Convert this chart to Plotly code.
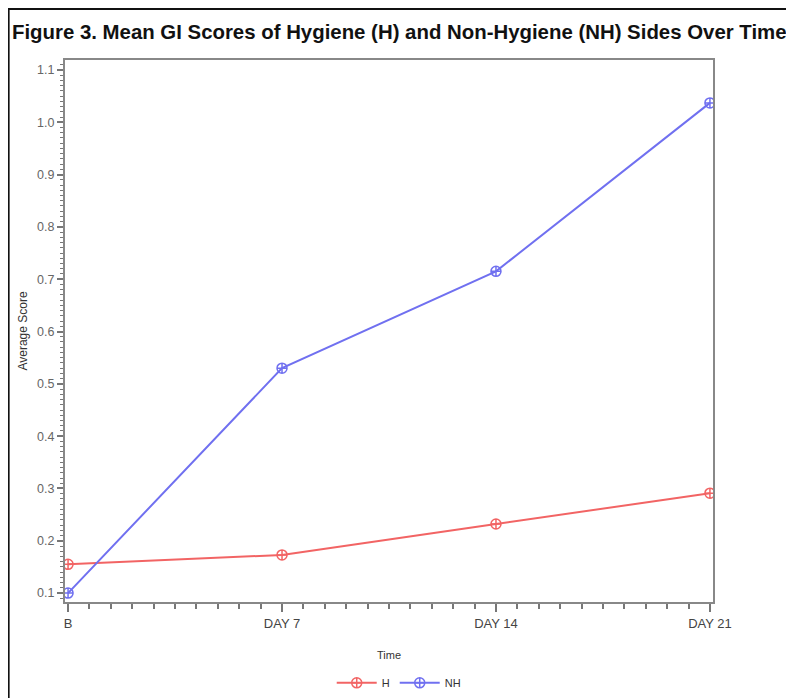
import plotly.graph_objects as go

RED = "#f26464"
BLUE = "#7070f0"

days = [0, 7, 14, 21]
tick_labels = ["B", "DAY 7", "DAY 14", "DAY 21"]
h_scores = [0.155, 0.173, 0.232, 0.291]
nh_scores = [0.10, 0.53, 0.715, 1.037]

# page has an 8px body margin, so the figure is 8px smaller and everything sits 8px up/left
fig = go.Figure()
fig.add_trace(go.Scatter(
    x=days, y=h_scores, name="H", mode="lines+markers",
    line=dict(color=RED, width=2),
    marker=dict(symbol="circle-cross-open", size=10, color=RED, line=dict(width=1.5)),
))
fig.add_trace(go.Scatter(
    x=days, y=nh_scores, name="NH", mode="lines+markers",
    line=dict(color=BLUE, width=2),
    marker=dict(symbol="circle-cross-open", size=10, color=BLUE, line=dict(width=1.5)),
))

fig.update_layout(
    width=786, height=690,
    margin=dict(l=57, r=81, t=52, b=96),
    plot_bgcolor="white", paper_bgcolor="white",
    font=dict(family="Liberation Sans, Arial, sans-serif", color="#555555"),
    title=dict(
        text="<b>Figure 3. Mean GI Scores of Hygiene (H) and Non-Hygiene (NH) Sides Over Time</b>",
        x=0.005, xref="container", xanchor="left", y=0.966, yanchor="middle",
        font=dict(size=20.4, color="#111111"),
    ),
    showlegend=True,
    legend=dict(
        orientation="h", x=0.515, xanchor="center",
        yref="container", y=0.022, yanchor="middle",
        font=dict(size=11, color="#333333"), itemwidth=40,
    ),
    shapes=[dict(
        type="rect", xref="paper", yref="paper",
        x0=-0.087, x1=1.3, y0=-0.4, y1=1.094,
        line=dict(color="#111111", width=2), layer="below",
    )],
)

fig.update_xaxes(
    range=[-0.1, 21.1], tickvals=days, ticktext=tick_labels,
    showgrid=False, zeroline=False, automargin=False,
    showline=True, linecolor="#888888", linewidth=2, mirror=True,
    ticks="outside", ticklen=8, tickcolor="#777777", tickwidth=2,
    tickfont=dict(size=13, color="#444444"),
    minor=dict(dtick=0.7, tick0=0, ticks="outside", ticklen=5, tickcolor="#777777", tickwidth=1.5),
    title=dict(text="Time", font=dict(size=11, color="#333333"), standoff=22),
)
fig.update_yaxes(
    range=[0.083, 1.119], tickvals=[0.1, 0.2, 0.3, 0.4, 0.5, 0.6, 0.7, 0.8, 0.9, 1.0, 1.1],
    tickformat=".1f",
    showgrid=False, zeroline=False, automargin=False,
    showline=True, linecolor="#888888", linewidth=2, mirror=True,
    ticks="outside", ticklen=6, tickcolor="#777777", tickwidth=1.5,
    tickfont=dict(size=12.5, color="#666666"),
    minor=dict(dtick=0.01, tick0=0, ticks="outside", ticklen=3, tickcolor="#777777", tickwidth=1),
    title=dict(text="Average Score", font=dict(size=12, color="#333333"), standoff=7),
)

fig.write_html("out.html")
